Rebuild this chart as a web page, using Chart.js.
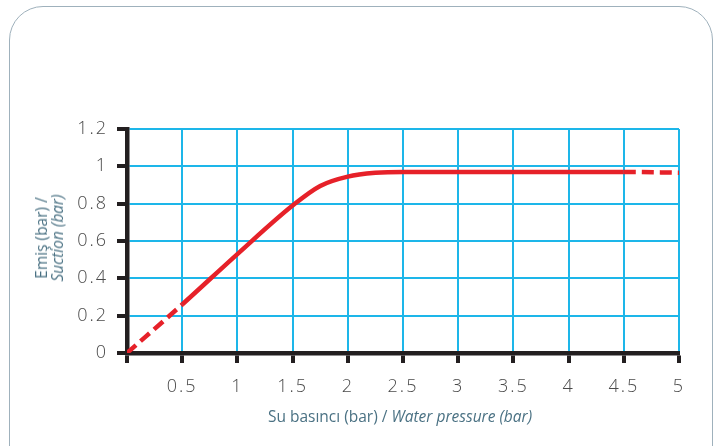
<!DOCTYPE html>
<html>
<head>
<meta charset="utf-8">
<script src="https://cdn.jsdelivr.net/npm/chart.js@4"></script>
<style>
  html, body { margin: 0; padding: 0; background: #fff; }
  #wrap { position: relative; width: 720px; height: 446px; overflow: hidden; }
  #card { position: absolute; left: 9px; top: 6px; width: 704px; height: 500px;
          border: 1px solid #9fb1bc; border-radius: 34px; box-sizing: border-box; }
  canvas { position: absolute; left: 0; top: 0; }
  .title { position: absolute; font-family: "Open Sans", sans-serif; font-size: 15.5px;
           color: #4a7183; white-space: nowrap; line-height: 16px; }
  #xTitle { left: 400px; top: 408px; transform: translateX(-50%); }
  #yTitle { left: 49px; top: 238px; transform: translate(-50%, -50%) rotate(-90deg); text-align: center; }
</style>
</head>
<body>
<div id="wrap">
  <div id="card"></div>
  <canvas id="chart" width="720" height="446"></canvas>
  <div class="title" id="xTitle">Su basıncı (bar) / <i>Water pressure (bar)</i></div>
  <div class="title" id="yTitle">Emiş (bar) /<br><i>Suction (bar)</i></div>
</div>
<script>
// water pressure (bar) vs suction (bar)
const pressure = [0, 0.5, 1, 1.5, 1.75, 2, 2.25, 2.5, 3, 3.5, 4, 4.5, 5];
const suction = [0, 0.26, 0.53, 0.79, 0.895, 0.945, 0.965, 0.97, 0.97, 0.97, 0.97, 0.97, 0.966];
const xTicks = [0.5, 1, 1.5, 2, 2.5, 3, 3.5, 4, 4.5, 5];
const yTicks = [0, 0.2, 0.4, 0.6, 0.8, 1, 1.2];

const dashStart = 0.5;  // dashed before this
const dashEnd = 4.5;    // dashed after this

const spacing = {
  id: 'spacing',
  beforeDraw(chart) { chart.ctx.letterSpacing = '2px'; }
};

const tickFont = { family: 'Open Sans', size: 18, weight: 300 };

new Chart(document.getElementById('chart'), {
  type: 'line',
  data: {
    datasets: [{
      data: pressure.map((x, i) => ({ x: x, y: suction[i] })),
      borderColor: '#e62129',
      borderWidth: 4.5,
      pointRadius: 0,
      cubicInterpolationMode: 'monotone',
      borderCapStyle: 'butt',
      segment: {
        borderDash: ctx => (ctx.p0.parsed.x < dashStart || ctx.p0.parsed.x >= dashEnd) ? [12, 6] : undefined
      }
    }]
  },
  options: {
    responsive: false,
    animation: false,
    layout: { padding: { left: 0, top: 129, right: 41, bottom: 48 } },
    plugins: { legend: { display: false }, tooltip: { enabled: false } },
    scales: {
      x: {
        type: 'linear', min: 0, max: 5,
        afterFit: s => { s.height = 45; },
        afterBuildTicks: s => { s.ticks = [0].concat(xTicks).map(v => ({ value: v })); },
        grid: { color: '#1db6e9', lineWidth: 2, tickColor: '#231f20', tickWidth: 4, tickLength: 10 },
        border: { color: '#231f20', width: 4.5 },
        ticks: {
          color: '#4a4a4a', padding: 13, maxRotation: 0, autoSkip: false,
          font: tickFont,
          callback: v => v === 0 ? '' : String(v)
        }
      },
      y: {
        min: 0, max: 1.2,
        afterFit: s => { s.width = 127; },
        afterBuildTicks: s => { s.ticks = yTicks.map(v => ({ value: v })); },
        grid: { color: '#1db6e9', lineWidth: 2, tickColor: '#231f20', tickWidth: 4, tickLength: 10 },
        border: { color: '#231f20', width: 4.5 },
        ticks: {
          color: '#4a4a4a', padding: 9, autoSkip: false,
          font: tickFont,
          callback: v => String(Number(v.toFixed(1)))
        }
      }
    }
  },
  plugins: [spacing]
});
</script>
</body>
</html>
